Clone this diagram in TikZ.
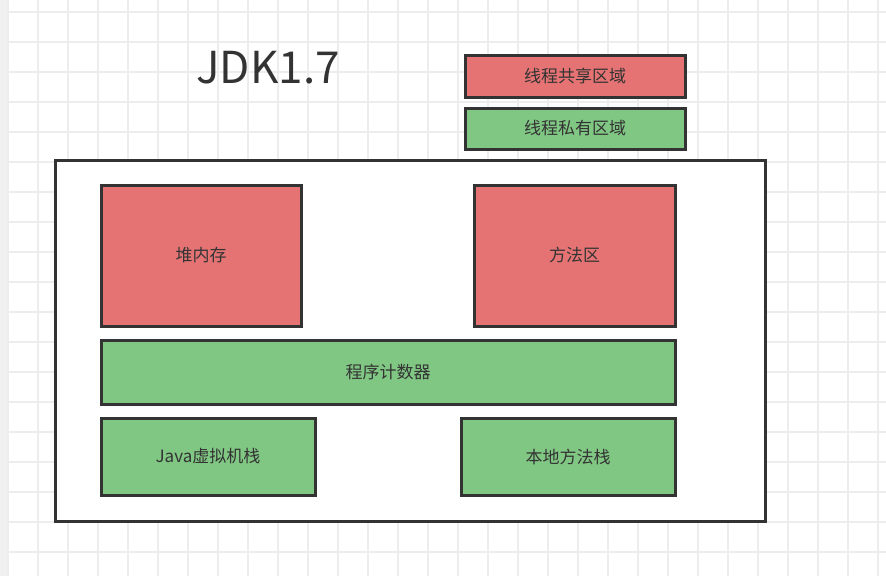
\documentclass[tikz,border=0pt]{standalone}
\usepackage{fontspec}
\setmainfont{Noto Sans CJK SC}
\usetikzlibrary{positioning}
\definecolor{shared}{HTML}{E57373}
\definecolor{private}{HTML}{81C784}
\definecolor{ink}{HTML}{333333}
\tikzset{
  area/.style={draw=ink, line width=3pt, minimum width=#1, inner sep=0pt, font=\fontsize{17}{20}\selectfont, text=ink},
  shared/.style={area=#1, fill=shared},
  private/.style={area=#1, fill=private},
}
\begin{document}
\begin{tikzpicture}[x=1pt, y=-1pt]
\useasboundingbox (0,0) rectangle (886,576);
\fill[white] (0,0) rectangle (886,576);
\fill[black!6] (0,0) rectangle (8,576);
% grid
\foreach \i in {0,...,29} \draw[black!7, line width=2pt] (8+30*\i,0) -- (8+30*\i,576);
\foreach \j in {0,...,19} \draw[black!7, line width=2pt] (8,12+30*\j) -- (886,12+30*\j);
\node[text=ink, font=\fontsize{44}{50}\selectfont] (title) at (268,68) {JDK1.7};
\node[shared=220pt, minimum height=42pt] (legshared) at (575,76) {线程共享区域};
\node[private=220pt, minimum height=41pt] (legprivate) at (575,128.5) {线程私有区域};
\draw[ink, line width=3pt, fill=white] (55,160) rectangle (765,521);
\node[shared=200pt, minimum height=141pt] (heap) at (201,255.5) {堆内存};
\node[shared=201pt, minimum height=141pt] (method) at (574.5,255.5) {方法区};
\node[private=574pt, minimum height=64pt] (pc) at (388,372) {程序计数器};
\node[private=214pt, minimum height=77pt] (jvmstack) at (208,456.5) {Java虚拟机栈};
\node[private=214pt, minimum height=77pt] (native) at (568,456.5) {本地方法栈};
\end{tikzpicture}
\end{document}
